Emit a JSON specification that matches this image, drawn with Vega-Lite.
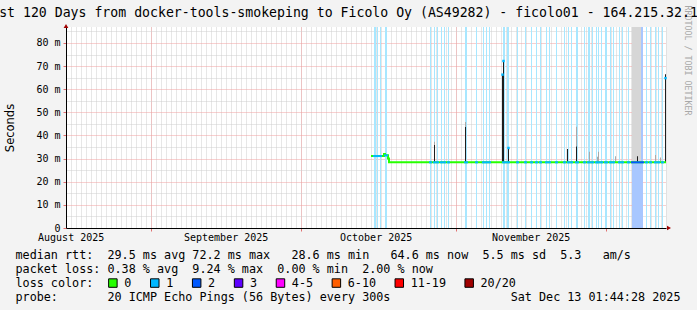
{
  "$schema": "https://vega.github.io/schema/vega-lite/v6.json",
  "width": 600,
  "height": 201,
  "autosize": {"type": "none"},
  "padding": {"left": 66, "top": 27, "right": 31, "bottom": 82},
  "background": "#f3f3f3",
  "config": {"view": {"fill": "white", "stroke": null}, "font": "DejaVu Sans Mono"},
  "title": {
    "text": "Last 120 Days from docker-tools-smokeping to Ficolo Oy (AS49282) - ficolo01 - 164.215.32.130",
    "font": "DejaVu Sans Mono", "fontSize": 13.2, "fontWeight": "normal", "color": "#000000",
    "anchor": "middle", "frame": "group", "dx": -17.5, "dy": 35, "offset": 7, "baseline": "bottom"
  },
  "datasets": {
    "loss": [
      {"t0": "2025-10-15T16:08", "t1": "2025-10-16T01:44", "loss": "1", "rtt": 31.1},
      {"t0": "2025-10-16T06:32", "t1": "2025-10-16T11:20", "loss": "1", "rtt": 31.1},
      {"t0": "2025-10-16T20:56", "t1": "2025-10-17T01:44", "loss": "1", "rtt": 31.1},
      {"t0": "2025-10-17T20:56", "t1": "2025-10-18T06:32", "loss": "1", "rtt": 31.4},
      {"t0": "2025-10-26T20:56", "t1": "2025-10-27T01:44", "loss": "1", "rtt": 28.4},
      {"t0": "2025-10-27T16:08", "t1": "2025-10-27T20:56", "loss": "1", "rtt": 28.4},
      {"t0": "2025-10-28T06:32", "t1": "2025-10-28T11:20", "loss": "1", "rtt": 28.4},
      {"t0": "2025-10-29T01:44", "t1": "2025-10-29T06:32", "loss": "1", "rtt": 28.4},
      {"t0": "2025-10-29T16:08", "t1": "2025-10-29T20:56", "loss": "1", "rtt": 28.4},
      {"t0": "2025-10-30T11:20", "t1": "2025-10-30T16:08", "loss": "1", "rtt": 28.4},
      {"t0": "2025-11-02T20:56", "t1": "2025-11-03T06:32", "loss": "1", "rtt": 28.4},
      {"t0": "2025-11-05T01:44", "t1": "2025-11-05T06:32", "loss": "1", "rtt": 28.4},
      {"t0": "2025-11-06T11:20", "t1": "2025-11-06T16:08", "loss": "1", "rtt": 28.4},
      {"t0": "2025-11-07T01:44", "t1": "2025-11-07T06:32", "loss": "1", "rtt": 28.4},
      {"t0": "2025-11-07T16:08", "t1": "2025-11-07T20:56", "loss": "1", "rtt": 28.4},
      {"t0": "2025-11-10T11:20", "t1": "2025-11-10T20:56", "loss": "1", "rtt": 28.4},
      {"t0": "2025-11-11T06:32", "t1": "2025-11-11T16:08", "loss": "1", "rtt": 28.4},
      {"t0": "2025-11-13T06:32", "t1": "2025-11-13T11:20", "loss": "1", "rtt": 28.4},
      {"t0": "2025-11-14T20:56", "t1": "2025-11-15T01:44", "loss": "1", "rtt": 28.4},
      {"t0": "2025-11-16T01:44", "t1": "2025-11-16T06:32", "loss": "1", "rtt": 28.4},
      {"t0": "2025-11-17T01:44", "t1": "2025-11-17T06:32", "loss": "1", "rtt": 28.4},
      {"t0": "2025-11-17T20:56", "t1": "2025-11-18T01:44", "loss": "1", "rtt": 28.4},
      {"t0": "2025-11-19T01:44", "t1": "2025-11-19T06:32", "loss": "1", "rtt": 28.4},
      {"t0": "2025-11-19T16:08", "t1": "2025-11-19T20:56", "loss": "1", "rtt": 28.4},
      {"t0": "2025-11-21T01:44", "t1": "2025-11-21T06:32", "loss": "1", "rtt": 28.4},
      {"t0": "2025-11-22T16:08", "t1": "2025-11-22T20:56", "loss": "1", "rtt": 28.4},
      {"t0": "2025-11-23T11:20", "t1": "2025-11-23T16:08", "loss": "1", "rtt": 28.4},
      {"t0": "2025-11-24T01:44", "t1": "2025-11-24T06:32", "loss": "1", "rtt": 28.4},
      {"t0": "2025-11-25T01:44", "t1": "2025-11-25T11:20", "loss": "1", "rtt": 28.4},
      {"t0": "2025-11-26T16:08", "t1": "2025-11-26T20:56", "loss": "1", "rtt": 28.4},
      {"t0": "2025-11-27T11:20", "t1": "2025-11-27T20:56", "loss": "1", "rtt": 28.4},
      {"t0": "2025-11-28T06:32", "t1": "2025-11-28T11:20", "loss": "1", "rtt": 28.4},
      {"t0": "2025-11-29T01:44", "t1": "2025-11-29T06:32", "loss": "1", "rtt": 28.4},
      {"t0": "2025-11-29T11:20", "t1": "2025-11-29T16:08", "loss": "1", "rtt": 28.4},
      {"t0": "2025-11-30T01:44", "t1": "2025-11-30T06:32", "loss": "1", "rtt": 28.4},
      {"t0": "2025-11-30T20:56", "t1": "2025-12-01T06:32", "loss": "1", "rtt": 28.4},
      {"t0": "2025-12-01T20:56", "t1": "2025-12-02T01:44", "loss": "1", "rtt": 28.4},
      {"t0": "2025-12-02T11:20", "t1": "2025-12-02T16:08", "loss": "1", "rtt": 28.4},
      {"t0": "2025-12-03T16:08", "t1": "2025-12-03T20:56", "loss": "1", "rtt": 28.4},
      {"t0": "2025-12-04T06:32", "t1": "2025-12-04T11:20", "loss": "1", "rtt": 28.4},
      {"t0": "2025-12-05T11:20", "t1": "2025-12-05T16:08", "loss": "1", "rtt": 28.4},
      {"t0": "2025-12-06T06:32", "t1": "2025-12-08T11:20", "loss": "2", "rtt": 28.4},
      {"t0": "2025-12-09T01:44", "t1": "2025-12-09T06:32", "loss": "1", "rtt": 28.4},
      {"t0": "2025-12-09T20:56", "t1": "2025-12-10T01:44", "loss": "1", "rtt": 28.4},
      {"t0": "2025-12-10T20:56", "t1": "2025-12-11T01:44", "loss": "1", "rtt": 28.4},
      {"t0": "2025-12-11T11:20", "t1": "2025-12-11T16:08", "loss": "1", "rtt": 28.4},
      {"t0": "2025-12-12T06:32", "t1": "2025-12-12T11:20", "loss": "1", "rtt": 28.4}
    ],
    "smoke": [
      {"t0": "2025-12-06T06:32", "t1": "2025-12-08T01:44", "lo": 28.6, "hi": 86.9, "shade": "light"},
      {"t0": "2025-10-27T16:08", "t1": "2025-10-27T20:56", "lo": 35.9, "hi": 37.3, "shade": "mid"},
      {"t0": "2025-11-02T20:56", "t1": "2025-11-03T01:44", "lo": 43.7, "hi": 45.8, "shade": "mid"},
      {"t0": "2025-11-25T01:44", "t1": "2025-11-25T06:32", "lo": 35.2, "hi": 43.8, "shade": "mid"},
      {"t0": "2025-11-27T16:08", "t1": "2025-11-27T20:56", "lo": 28.6, "hi": 33.0, "shade": "mid"},
      {"t0": "2025-11-29T06:32", "t1": "2025-11-29T11:20", "lo": 28.6, "hi": 30.8, "shade": "mid"},
      {"t0": "2025-11-29T11:20", "t1": "2025-11-29T16:08", "lo": 28.6, "hi": 33.0, "shade": "mid"},
      {"t0": "2025-12-02T20:56", "t1": "2025-12-03T01:44", "lo": 28.6, "hi": 31.0, "shade": "mid"},
      {"t0": "2025-12-10T20:56", "t1": "2025-12-11T01:44", "lo": 28.6, "hi": 31.6, "shade": "mid"},
      {"t0": "2025-12-11T20:56", "t1": "2025-12-12T01:44", "lo": 28.6, "hi": 30.5, "shade": "mid"}
    ],
    "spikes": [
      {"t0": "2025-10-27T16:08", "t1": "2025-10-27T20:56", "lo": 28.4, "hi": 35.9},
      {"t0": "2025-11-02T20:56", "t1": "2025-11-03T01:44", "lo": 28.4, "hi": 43.7},
      {"t0": "2025-11-10T06:32", "t1": "2025-11-10T11:20", "lo": 28.4, "hi": 66.3},
      {"t0": "2025-11-10T11:20", "t1": "2025-11-10T16:08", "lo": 28.4, "hi": 72.2},
      {"t0": "2025-11-11T11:20", "t1": "2025-11-11T16:08", "lo": 28.4, "hi": 34.6},
      {"t0": "2025-11-23T06:32", "t1": "2025-11-23T11:20", "lo": 28.4, "hi": 34.2},
      {"t0": "2025-11-25T01:44", "t1": "2025-11-25T06:32", "lo": 28.4, "hi": 35.2},
      {"t0": "2025-12-07T06:32", "t1": "2025-12-07T11:20", "lo": 28.4, "hi": 31.0},
      {"t0": "2025-12-12T20:56", "t1": "2025-12-13T01:44", "lo": 28.4, "hi": 66.5}
    ],
    "tops": [
      {"t": "2025-11-10T08:56", "rtt": 66.3, "loss": "1"},
      {"t": "2025-11-10T13:44", "rtt": 72.2, "loss": "1"},
      {"t": "2025-11-11T13:44", "rtt": 34.6, "loss": "1"},
      {"t": "2025-12-12T23:20", "rtt": 64.8, "loss": "1"}
    ],
    "median": [
      {"t": "2025-10-15T01:44", "rtt": 31.1},
      {"t": "2025-10-17T16:08", "rtt": 32.0},
      {"t": "2025-10-17T20:56", "rtt": 31.4},
      {"t": "2025-10-18T11:20", "rtt": 30.0},
      {"t": "2025-10-18T16:08", "rtt": 28.4},
      {"t": "2025-12-13T01:44", "rtt": 28.4}
    ],
    "ends": [
      {"t": "2025-08-15T01:44:28", "rtt": 86.9, "end": "y"},
      {"t": "2025-12-13T01:44:28", "rtt": 0, "end": "x"}
    ]
  },
  "layer": [
    {
      "data": {"name": "loss"},
      "mark": {"type": "rect"},
      "encoding": {
        "x": {"field": "t0", "type": "temporal",
          "scale": {"domain": [{"year": 2025, "month": 8, "date": 15, "hours": 1, "minutes": 44, "seconds": 28}, {"year": 2025, "month": 12, "date": 13, "hours": 1, "minutes": 44, "seconds": 28}], "nice": false},
          "axis": {"orient": "bottom", "tickCount": {"interval": "day", "step": 1}, "grid": true, "gridColor": "#cfcfcf", "gridDash": [1, 1], "labels": false, "ticks": false, "domain": false, "title": null}},
        "x2": {"field": "t1"},
        "fill": {"field": "loss", "type": "nominal",
          "scale": {"domain": ["1", "2"], "range": ["#a8e7ff", "#a8c7ff"]},
          "legend": null}
      }
    },
    {
      "data": {"name": "smoke"},
      "mark": {"type": "rect"},
      "encoding": {
        "x": {"field": "t0", "type": "temporal",
          "scale": {"domain": [{"year": 2025, "month": 8, "date": 15, "hours": 1, "minutes": 44, "seconds": 28}, {"year": 2025, "month": 12, "date": 13, "hours": 1, "minutes": 44, "seconds": 28}], "nice": false},
          "axis": null},
        "x2": {"field": "t1"},
        "y": {"field": "lo", "type": "quantitative", "scale": {"domain": [0, 86.9], "nice": false, "zero": false},
          "axis": {"orient": "right", "title": "RRDTOOL / TOBI OETIKER", "titleAngle": 90, "titleX": 20.5, "titleY": 33, "titleAlign": "center", "titleBaseline": "middle", "titleFont": "DejaVu Sans Mono", "titleFontSize": 8.3, "titleFontWeight": "normal", "titleColor": "#a8a8a8", "labels": false, "ticks": false, "domain": false, "grid": false}},
        "y2": {"field": "hi"},
        "fill": {"field": "shade", "type": "nominal", "scale": {"domain": ["light", "mid"], "range": ["#d6d6d6", "#a9a9a9"]}, "legend": null}
      }
    },
    {
      "data": {"name": "spikes"},
      "mark": {"type": "rect", "color": "#1e1e1e"},
      "encoding": {
        "x": {"field": "t0", "type": "temporal",
          "scale": {"domain": [{"year": 2025, "month": 8, "date": 15, "hours": 1, "minutes": 44, "seconds": 28}, {"year": 2025, "month": 12, "date": 13, "hours": 1, "minutes": 44, "seconds": 28}], "nice": false},
          "axis": {"orient": "bottom", "tickCount": {"interval": "month", "step": 1}, "grid": true, "gridColor": "#f0a0a0", "gridDash": [1, 1], "labels": false, "ticks": true, "tickColor": "#e07070", "tickSize": 3, "domain": false, "title": null}},
        "x2": {"field": "t1"},
        "y": {"field": "lo", "type": "quantitative", "scale": {"domain": [0, 86.9], "nice": false, "zero": false},
          "axis": {"values": [5, 15, 25, 35, 45, 55, 65, 75, 85], "grid": true, "gridColor": "#cfcfcf", "gridDash": [1, 1], "labels": false, "ticks": false, "domain": false, "title": null}},
        "y2": {"field": "hi"}
      }
    },
    {
      "data": {"name": "median"},
      "mark": {"type": "line", "interpolate": "step-after", "color": "#26ff00", "strokeWidth": 2},
      "encoding": {
        "x": {"field": "t", "type": "temporal",
          "scale": {"domain": [{"year": 2025, "month": 8, "date": 15, "hours": 1, "minutes": 44, "seconds": 28}, {"year": 2025, "month": 12, "date": 13, "hours": 1, "minutes": 44, "seconds": 28}], "nice": false},
          "axis": {"orient": "bottom",
            "values": [{"year": 2025, "month": 8, "date": 16}, {"year": 2025, "month": 9, "date": 16}, {"year": 2025, "month": 10, "date": 16}, {"year": 2025, "month": 11, "date": 16}],
            "format": "%B %Y", "labelFont": "DejaVu Sans Mono", "labelFontSize": 10, "labelColor": "#000000", "labelPadding": 4,
            "labelAlign": "center", "labelBaseline": "top", "labelFlush": false, "labelOverlap": false,
            "ticks": false, "grid": false, "domain": true, "domainColor": "#000000", "domainWidth": 1,
            "title": [
              "median rtt:\u00a0\u00a029.5 ms avg\u00a072.2 ms max\u00a0\u00a0\u00a028.6 ms min\u00a0\u00a0\u00a064.6 ms now\u00a0\u00a05.5 ms sd\u00a0\u00a05.3\u00a0\u00a0\u00a0am/s",
              "packet loss:\u00a00.38 % avg\u00a0\u00a09.24 % max\u00a0\u00a00.00 % min\u00a0\u00a02.00 % now",
              "loss color:",
              "probe:\u00a0\u00a0\u00a0\u00a0\u00a0\u00a0\u00a020 ICMP Echo Pings (56 Bytes) every 300s\u00a0\u00a0\u00a0\u00a0\u00a0\u00a0\u00a0\u00a0\u00a0\u00a0\u00a0\u00a0\u00a0\u00a0\u00a0\u00a0\u00a0Sat Dec 13 01:44:28 2025"
            ],
            "titleX": -51, "titleY": 30, "titleAlign": "left", "titleAngle": 0, "titleBaseline": "alphabetic",
            "titleFont": "DejaVu Sans Mono", "titleFontSize": 11.75, "titleFontWeight": "normal", "titleColor": "#000000",
            "titleLineHeight": 14, "titleLimit": 2000}},
        "y": {"field": "rtt", "type": "quantitative", "scale": {"domain": [0, 86.9], "nice": false, "zero": false},
          "axis": {"orient": "left", "values": [0, 10, 20, 30, 40, 50, 60, 70, 80], "grid": true, "gridColor": "#f0a0a0", "gridDash": [1, 1],
            "labelExpr": "datum.value == 0 ? '0\u00a0' : datum.value + ' m'",
            "labelFont": "DejaVu Sans Mono", "labelFontSize": 10, "labelColor": "#000000", "labelPadding": 3,
            "ticks": true, "tickSize": 3, "tickColor": "#e07070", "domain": true, "domainColor": "#000000", "domainWidth": 1,
            "title": "Seconds", "titleFont": "DejaVu Sans", "titleFontSize": 11.5, "titleFontWeight": "normal", "titleColor": "#000000",
            "titleX": -56, "titleY": 100.5, "titleAngle": -90, "titleAlign": "center", "titleBaseline": "middle"}}
      }
    },
    {
      "data": {"name": "loss"},
      "mark": {"type": "rule", "strokeWidth": 2, "strokeCap": "square"},
      "encoding": {
        "x": {"field": "t0", "type": "temporal",
          "scale": {"domain": [{"year": 2025, "month": 8, "date": 15, "hours": 1, "minutes": 44, "seconds": 28}, {"year": 2025, "month": 12, "date": 13, "hours": 1, "minutes": 44, "seconds": 28}], "nice": false},
          "axis": null},
        "x2": {"field": "t1"},
        "y": {"field": "rtt", "type": "quantitative", "scale": {"domain": [0, 86.9], "nice": false, "zero": false}, "axis": null},
        "stroke": {"field": "loss", "type": "nominal",
          "scale": {"domain": ["1", "2"], "range": ["#00b8ff", "#0059ff"]},
          "legend": null}
      }
    },
    {
      "data": {"name": "tops"},
      "mark": {"type": "square", "size": 6, "opacity": 1},
      "encoding": {
        "x": {"field": "t", "type": "temporal",
          "scale": {"domain": [{"year": 2025, "month": 8, "date": 15, "hours": 1, "minutes": 44, "seconds": 28}, {"year": 2025, "month": 12, "date": 13, "hours": 1, "minutes": 44, "seconds": 28}], "nice": false},
          "axis": null},
        "y": {"field": "rtt", "type": "quantitative", "scale": {"domain": [0, 86.9], "nice": false, "zero": false}, "axis": null},
        "color": {"field": "loss", "type": "nominal",
          "scale": {"domain": ["0", "1", "2", "3", "4-5", "6-10", "11-19", "20/20"], "range": ["#26ff00", "#00b8ff", "#0059ff", "#5e00ff", "#ff00ff", "#ff5e00", "#ff0000", "#a00000"]},
          "legend": {"orient": "none", "legendX": 41, "legendY": 250, "direction": "horizontal", "columns": 8, "title": null,
            "symbolType": "square", "symbolSize": 72, "symbolStrokeColor": "#000000", "symbolStrokeWidth": 1, "symbolOpacity": 1,
            "labelFont": "DejaVu Sans Mono", "labelFontSize": 11.75, "labelColor": "#000000", "labelOffset": 5.5,
            "columnPadding": 15.9, "padding": 0}}
      }
    },
    {
      "data": {"name": "ends"},
      "transform": [{"filter": "datum.end == 'y'"}],
      "mark": {"type": "point", "shape": "triangle-up", "filled": true, "color": "#a00000", "size": 22, "yOffset": -1, "clip": false, "opacity": 1},
      "encoding": {
        "x": {"field": "t", "type": "temporal",
          "scale": {"domain": [{"year": 2025, "month": 8, "date": 15, "hours": 1, "minutes": 44, "seconds": 28}, {"year": 2025, "month": 12, "date": 13, "hours": 1, "minutes": 44, "seconds": 28}], "nice": false},
          "axis": null},
        "y": {"field": "rtt", "type": "quantitative", "scale": {"domain": [0, 86.9], "nice": false, "zero": false}, "axis": null}
      }
    },
    {
      "data": {"name": "ends"},
      "transform": [{"filter": "datum.end == 'x'"}],
      "mark": {"type": "point", "shape": "triangle-right", "filled": true, "color": "#a00000", "size": 22, "xOffset": 3, "clip": false, "opacity": 1},
      "encoding": {
        "x": {"field": "t", "type": "temporal",
          "scale": {"domain": [{"year": 2025, "month": 8, "date": 15, "hours": 1, "minutes": 44, "seconds": 28}, {"year": 2025, "month": 12, "date": 13, "hours": 1, "minutes": 44, "seconds": 28}], "nice": false},
          "axis": null},
        "y": {"field": "rtt", "type": "quantitative", "scale": {"domain": [0, 86.9], "nice": false, "zero": false}, "axis": null}
      }
    }
  ],
  "resolve": {"scale": {"fill": "independent"}, "axis": {"x": "independent", "y": "independent"}}
}
